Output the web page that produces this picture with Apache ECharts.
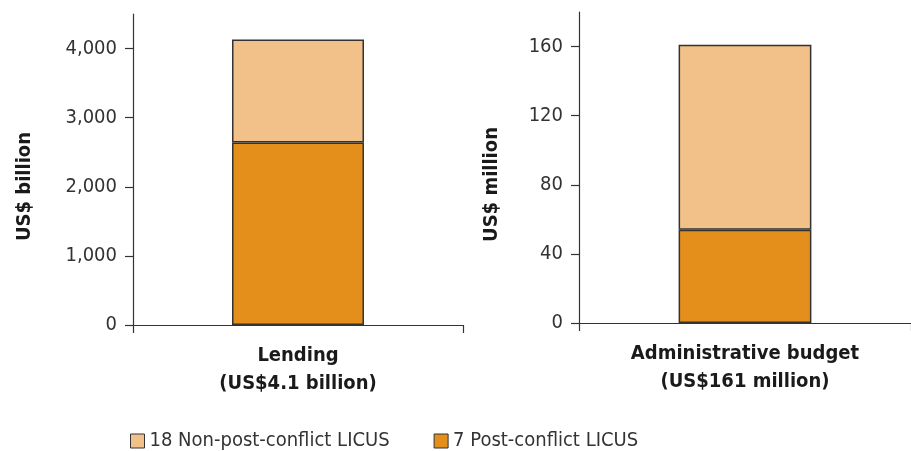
<!DOCTYPE html>
<html>
<head>
<meta charset="utf-8">
<script src="https://cdn.jsdelivr.net/npm/echarts@6/dist/echarts.min.js"></script>
<style>html,body{margin:0;padding:0;background:#fff;}#c{width:911px;height:451px;}</style>
</head>
<body>
<div id="c"></div>
<script>
const seriesNames = ['18 Non-post-conflict LICUS', '7 Post-conflict LICUS'];
const lendingCategory = ['Lending\n(US$4.1 billion)'];
const budgetCategory = ['Administrative budget\n(US$161 million)'];
const lendingPost = [2640];
const lendingNonPost = [1490];
const budgetPost = [54];
const budgetNonPost = [107];
const lendingTicks = [0, 1000, 2000, 3000, 4000];
const budgetTicks = [0, 40, 80, 120, 160];
const lendingTitle = 'US$ billion';
const budgetTitle = 'US$ million';

const FONT = '"DejaVu Sans Condensed", "Liberation Sans", sans-serif';
const DARK = '#E48E1B';
const LIGHT = '#F2C189';
const LINE = '#333333';

function yAxis(grid, max, ticks, name, gap, fmt) {
  return {
    type: 'value', gridIndex: grid, min: 0, max: max,
    name: name, nameLocation: 'middle', nameGap: gap, nameRotate: 90,
    nameTextStyle: { fontFamily: FONT, fontWeight: 'bold', fontSize: 20, color: '#1a1a1a', padding: [0, 34, 0, 0] },
    axisLine: { show: true, lineStyle: { color: LINE, width: 1.2 } },
    axisTick: { show: true, length: 8, customValues: ticks, lineStyle: { color: LINE, width: 1.2 } },
    axisLabel: { customValues: ticks, fontFamily: FONT, fontSize: 20, color: '#333', margin: 16, formatter: fmt },
    splitLine: { show: false }
  };
}
function xAxis(grid, cats) {
  return {
    type: 'category', gridIndex: grid, data: cats, boundaryGap: true,
    axisLine: { show: true, lineStyle: { color: LINE, width: 1.2 } },
    axisTick: { show: true, length: 8, lineStyle: { color: LINE, width: 1.2 } },
    axisLabel: { fontFamily: FONT, fontWeight: 'bold', fontSize: 20, lineHeight: 28, color: '#1a1a1a', margin: 17 }
  };
}
const itemBorder = { borderColor: LINE, borderWidth: 1.5 };

const option = {
  animation: false,
  backgroundColor: '#fff',
  grid: [
    { left: 133, width: 330, top: 14, bottom: 126 },
    { left: 579, width: 339, top: 12, bottom: 128 }
  ],
  xAxis: [xAxis(0, lendingCategory), xAxis(1, budgetCategory)],
  yAxis: [
    yAxis(0, 4500, lendingTicks, lendingTitle, 98, v => v.toLocaleString('en-US')),
    yAxis(1, 180, budgetTicks, budgetTitle, 77, v => String(v))
  ],
  legend: {
    data: seriesNames, left: 125, top: 426, itemGap: 44, itemWidth: 14, itemHeight: 14,
    icon: 'rect',
    itemStyle: { borderColor: LINE, borderWidth: 1 },
    textStyle: { fontFamily: FONT, fontSize: 20, color: '#333', padding: [0, 0, 0, 0] }
  },
  series: [
    { name: seriesNames[1], type: 'bar', stack: 'a', xAxisIndex: 0, yAxisIndex: 0, data: lendingPost, barWidth: '40%', itemStyle: Object.assign({ color: DARK }, itemBorder) },
    { name: seriesNames[0], type: 'bar', stack: 'a', xAxisIndex: 0, yAxisIndex: 0, data: lendingNonPost, barWidth: '40%', itemStyle: Object.assign({ color: LIGHT }, itemBorder) },
    { name: seriesNames[1], type: 'bar', stack: 'b', xAxisIndex: 1, yAxisIndex: 1, data: budgetPost, barWidth: '40%', itemStyle: Object.assign({ color: DARK }, itemBorder) },
    { name: seriesNames[0], type: 'bar', stack: 'b', xAxisIndex: 1, yAxisIndex: 1, data: budgetNonPost, barWidth: '40%', itemStyle: Object.assign({ color: LIGHT }, itemBorder) }
  ]
};
const chart = echarts.init(document.getElementById('c'), null, { renderer: 'canvas' });
chart.setOption(option);
</script>
</body>
</html>
